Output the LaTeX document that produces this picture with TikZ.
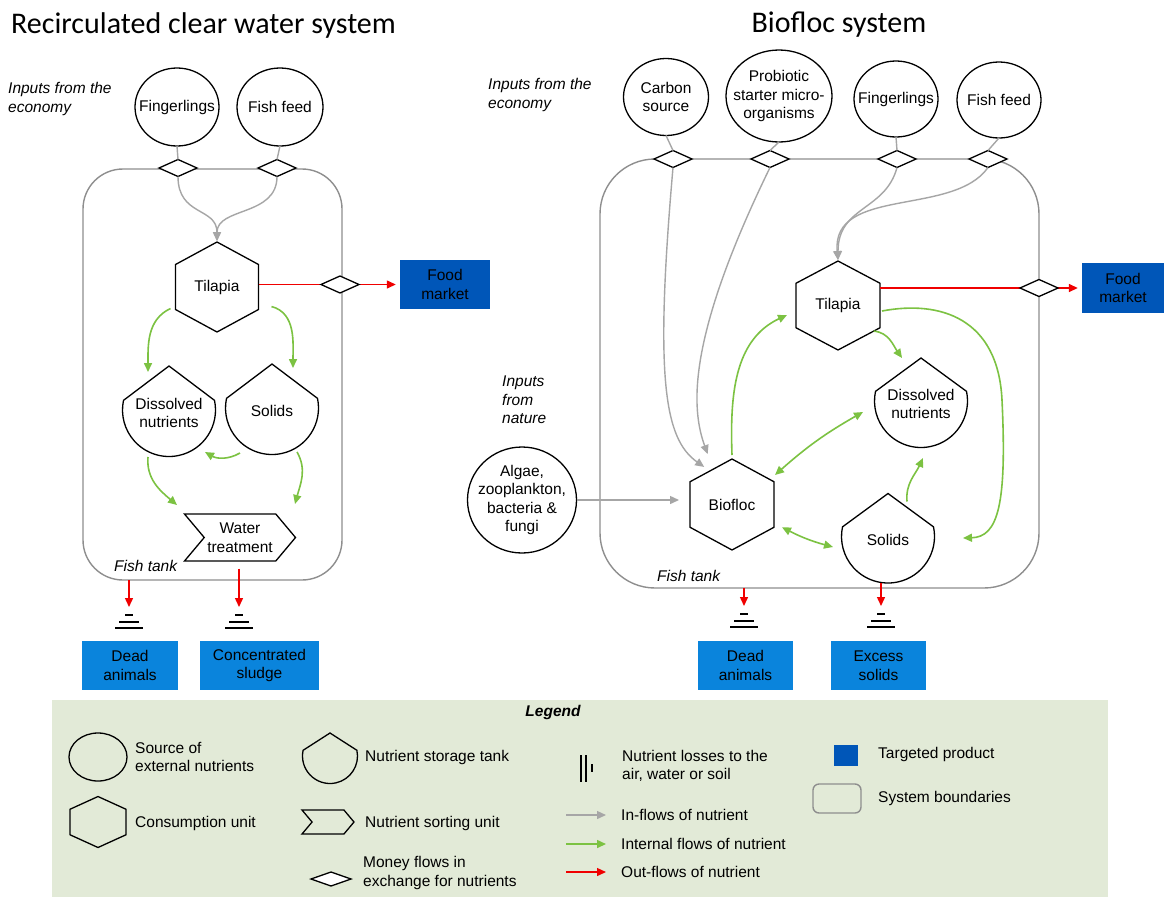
\documentclass[tikz,border=0pt]{standalone}
\usepackage{fontspec}
\setmainfont{Liberation Sans}
\newfontfamily\titlefont{Carlito}
\usetikzlibrary{shapes.geometric,shapes.symbols,arrows.meta,calc}
\definecolor{ingrey}{HTML}{A6A6A6}
\definecolor{bndgrey}{HTML}{8E8E8E}
\definecolor{intgreen}{HTML}{7CC242}
\definecolor{outred}{HTML}{F00000}
\definecolor{darkblue}{HTML}{0056B8}
\definecolor{lightblue}{HTML}{0A84DC}
\definecolor{legendbg}{HTML}{E2EAD7}
\newcommand\dfont{\fontsize{15.5}{18.5}\selectfont}
\tikzset{
  shapeline/.style={draw=black, line width=1.3pt, line join=miter},
  src/.style={ellipse, draw=black, line width=1.3pt, inner sep=0, outer sep=0},
  lbl/.style={font=\dfont, align=center, inner sep=0},
  money/.style={diamond, draw=black, fill=white, line width=1.3pt, minimum width=38pt, minimum height=17pt, inner sep=0, outer sep=0},
  hexnode/.style={rectangle, inner sep=0, outer sep=0, font=\dfont, align=center},
  wtstyle/.style={signal, signal to=east, signal from=west, signal pointer angle=100, draw=black, line width=1.3pt, inner sep=0, align=center, font=\dfont},
  inline/.style={draw=ingrey, line width=1.4pt},
  inflow/.style={inline, -{Triangle[length=9pt,width=8pt]}, shorten >=1pt},
  intflow/.style={draw=intgreen, line width=1.6pt, -{Triangle[length=9pt,width=8pt]}},
  intboth/.style={draw=intgreen, line width=1.6pt, {Triangle[length=9pt,width=8pt]}-{Triangle[length=9pt,width=8pt]}},
  outflow/.style={draw=outred, line width=1.4pt, -{Triangle[length=9pt,width=8pt]}},
  bndbox/.style={draw=bndgrey, line width=1.4pt, inner sep=0, outer sep=0},
  proddark/.style={fill=darkblue, font=\dfont, align=center, inner sep=0},
  prodlight/.style={fill=lightblue, font=\dfont, align=center, inner sep=0},
  txt/.style={anchor=west, inner sep=0, font=\dfont, align=left},
  itxt/.style={anchor=west, inner sep=0, font=\dfont\itshape, align=left},
  ttl/.style={inner sep=0, font=\titlefont\fontsize{30}{32}\selectfont},
}
\newcommand\srcnode[6]{%
  \node[src, minimum width=#4pt, minimum height=#5pt] (#1) at (#2,#3) {};
  \node[lbl] (#1-t) at (#1.center) {#6};}
\newcommand\hexa[6]{%
  \node[hexnode, minimum width=#4pt, minimum height=#5pt] (#1) at (#2,#3) {#6};
  \coordinate (#1-n) at ([shift={(0,#5/2)}]#1.center);
  \coordinate (#1-ne) at ([shift={(#4/2,#5/4)}]#1.center);
  \coordinate (#1-se) at ([shift={(#4/2,-#5/4)}]#1.center);
  \coordinate (#1-s) at ([shift={(0,-#5/2)}]#1.center);
  \coordinate (#1-sw) at ([shift={(-#4/2,-#5/4)}]#1.center);
  \coordinate (#1-nw) at ([shift={(-#4/2,#5/4)}]#1.center);
  \draw[shapeline] (#1-n) -- (#1-ne) -- (#1-se) -- (#1-s) -- (#1-sw) -- (#1-nw) -- cycle;}
\newcommand\tank[6]{%
  \node[circle, inner sep=0, outer sep=0, minimum size=#4pt] (#1) at (#2,#3) {};
  \node[lbl] (#1-t) at ([yshift=-3pt]#1.center) {#6};
  \coordinate (#1-apex) at ([shift={(0,#5)}]#1.center);
  \draw[shapeline] (#1-apex) -- (#1.12) arc[start angle=12, end angle=-192, radius=#4/2] -- cycle;}
\newcommand\groundsym[1]{%
  \draw[line width=2pt] ([shift={(-4,-8)}]#1) -- ([shift={(4,-8)}]#1);
  \draw[line width=2pt] ([shift={(-10,-14.5)}]#1) -- ([shift={(10,-14.5)}]#1);
  \draw[line width=2pt] ([shift={(-14,-21)}]#1) -- ([shift={(14,-21)}]#1);}
\begin{document}
\begin{tikzpicture}[x=1pt,y=1pt]
\useasboundingbox (0,0) rectangle (1164,-900);
\fill[white] (0,0) rectangle (1164,-900);

% ---------------- titles
\node[ttl, anchor=west] (titleL) at (11,-25) {Recirculated clear water system};
\node[ttl] (titleR) at (839,-25) {Biofloc system};

% ================= LEFT SYSTEM
\node[itxt] (econL) at (8,-99) {Inputs from the\\economy};
\node[bndbox, rounded corners=40pt, minimum width=259pt, minimum height=411pt] (tankL) at (212.5,-374.5) {};
\srcnode{fingL}{177}{-107}{84}{78}{Fingerlings}
\srcnode{feedL}{280}{-107}{86}{78}{Fish feed}
\node[money] (mFL) at (178,-168) {};
\node[money] (mFFL) at (277,-168) {};
\hexa{tilL}{217}{-287}{83}{90}{Tilapia}
\draw[inline] (fingL.south) -- (mFL.north);
\draw[inline] (feedL.south) -- (mFFL.north);
\draw[inflow] (mFL.south) .. controls +(-90:40) and +(90:35) .. (tilL-n);
\draw[inflow] (mFFL.south) .. controls +(-90:40) and +(90:35) .. (tilL-n);

\node[proddark, minimum width=90pt, minimum height=49pt] (foodL) at (445,-284.5) {Food\\market};
\draw[outflow, shorten >=4pt] (tilL.east |- foodL.west) -- (foodL.west);
\node[money] (mTilL) at (340,-284.5) {};

\tank{dissL}{169}{-410}{93}{44}{Dissolved\\nutrients}
\tank{solL}{272}{-408}{93}{44}{Solids}
\node[wtstyle, minimum width=111pt, minimum height=47pt] (wtL) at (240,-537.5) {Water\\treatment};

\draw[intflow] ([shift={(-5,1)}]tilL-sw) to[out=205,in=90] ([shift={(-21,38)}]dissL.center);
\draw[intflow] ([shift={(13,3)}]tilL-se) to[out=-15,in=90] ([shift={(21,40)}]solL.center);
\draw[intflow] ([shift={(-32,-45)}]solL.center) to[out=210,in=-30] ([shift={(36,-42)}]dissL.center);
\draw[intflow] ([shift={(-21,-47)}]dissL.center) to[out=-95,in=140] ([shift={(-63,32.5)}]wtL.center);
\draw[intflow] ([shift={(25,-44)}]solL.center) to[out=-60,in=75] ([shift={(55,33.5)}]wtL.center);

\node[itxt] (ftL) at (114,-566) {Fish tank};

\coordinate (gL1) at (129,-607);
\coordinate (gL2) at (239,-607);
\draw[outflow] (tankL.south -| gL1) -- (gL1);
\draw[outflow] ([yshift=-7pt]wtL.south -| gL2) -- (gL2);
\groundsym{gL1}
\groundsym{gL2}
\node[prodlight, minimum width=96pt, minimum height=49pt] (deadL) at (130,-665.5) {Dead\\animals};
\node[prodlight, minimum width=119pt, minimum height=49pt] (sludge) at (259.5,-665.5) {Concentrated\\sludge};

% ================= RIGHT SYSTEM
\node[itxt] (econR) at (488,-95) {Inputs from the\\economy};
\node[itxt] (natR) at (502,-400) {Inputs\\from\\nature};
\node[bndbox, rounded corners=55pt, minimum width=439pt, minimum height=429pt] (tankR) at (819.5,-373.5) {};
\srcnode{carb}{666}{-97}{85}{77}{Carbon\\source}
\srcnode{prob}{779}{-96}{106}{92}{Probiotic\\starter micro-\\organisms}
\srcnode{fingR}{896}{-99}{84}{76}{Fingerlings}
\srcnode{feedR}{999}{-100}{84}{76}{Fish feed}
\node[money] (mC) at (673,-159) {};
\node[money] (mP) at (770,-159) {};
\node[money] (mFR) at (897,-159) {};
\node[money] (mFFR) at (988,-159) {};
\draw[inline] (carb.south) -- (mC.north);
\draw[inline] (prob.south) -- (mP.north);
\draw[inline] (fingR.south) -- (mFR.north);
\draw[inline] (feedR.south) -- (mFFR.north);

\hexa{tilR}{838}{-305.5}{84}{89}{Tilapia}
\hexa{bio}{732}{-504.5}{84}{91}{Biofloc}
\tank{dissR}{921}{-401}{93}{43}{Dissolved\\nutrients}
\tank{solR}{888}{-536.5}{93}{43}{Solids}
\srcnode{alg}{522}{-500}{109}{106}{Algae,\\zooplankton,\\bacteria \&\\fungi}

\draw[inflow] (mC.south) .. controls +(-95:210) and +(145:50) .. ([shift={(-27,37)}]bio.center);
\draw[inflow] (mP.south) .. controls +(-116:190) and +(110:50) .. ([shift={(-24,49.5)}]bio.center);
\draw[inflow] (mFR.south) .. controls +(-105:45) and +(90:55) .. (tilR-n);
\draw[inflow] (mFFR.south) .. controls +(-125:60) and +(95:75) .. (tilR-n);
\draw[inflow, shorten >=11pt] (alg.east) -- (alg.east -| bio.west);

\node[proddark, minimum width=82pt, minimum height=50pt] (foodR) at (1123,-288) {Food\\market};
\draw[outflow, shorten >=4pt] (tilR-ne |- foodR.west) -- (foodR.west);
\node[money] (mTilR) at (1039,-288) {};

\draw[intflow] ([yshift=4pt]bio-n) to[out=92,in=205] ([shift={(-9,-9.5)}]tilR.west);
\draw[intflow] ($(tilR-se)!0.15!(tilR-s)$) to[out=-5,in=125] ([xshift=-19pt]dissR-apex);
\draw[intflow] ([shift={(2,-5.5)}]tilR.east) .. controls (940,-300) and (998,-318) .. (1002,-400)
   .. controls (1007,-505) and (998,-537) .. ([shift={(75,-1.5)}]solR.center);
\draw[intboth] ([shift={(1,6.75)}]bio-ne) to[bend left=6] ([shift={(-58,-11)}]dissR.center);
\draw[intboth] ([shift={(8,0)}]bio-se) to[bend right=6] ([shift={(-55,-10.5)}]solR.center);
\draw[intflow] ([shift={(19,-8)}]solR-apex) to[out=95,in=245] ([shift={(2,-57)}]dissR.center);

\node[itxt] (ftR) at (657,-576) {Fish tank};

\coordinate (gR1) at (744,-606);
\coordinate (gR2) at (881,-606);
\draw[outflow] (tankR.south -| gR1) -- (gR1);
\draw[outflow] (gR2 |- solR.south) -- (gR2);
\groundsym{gR1}
\groundsym{gR2}
\node[prodlight, minimum width=95pt, minimum height=49pt] (deadR) at (745.5,-665.5) {Dead\\animals};
\node[prodlight, minimum width=95pt, minimum height=49pt] (excess) at (878.5,-665.5) {Excess\\solids};

% ================= LEGEND
\node[fill=legendbg, minimum width=1056pt, minimum height=197pt, inner sep=0] (legbox) at (580,-798.5) {};
\node[inner sep=0, font=\dfont\bfseries\itshape] (legtitle) at (553,-712) {Legend};

\node[src, minimum width=58pt, minimum height=48pt] (lgsrc) at (98,-757) {};
\node[txt] (lgsrct) at (135,-757) {Source of\\external nutrients};
\hexa{lghex}{98}{-822}{56}{51}{}
\node[txt] (lghext) at (135,-823) {Consumption unit};
\tank{lgtank}{330}{-756}{55}{23}{}
\node[txt] (lgtankt) at (365,-757) {Nutrient storage tank};
\node[wtstyle, minimum width=52pt, minimum height=24pt] (lgsort) at (328,-822) {};
\node[txt] (lgsortt) at (365,-823) {Nutrient sorting unit};
\node[money, minimum width=40pt, minimum height=14pt] (lgmoney) at (331,-879) {};
\node[txt] (lgmoneyt) at (363,-873) {Money flows in\\exchange for nutrients};

\coordinate (lgloss) at (586,-768);
\draw[line width=2pt] ([shift={(-5,13)}]lgloss) -- ([shift={(-5,-14)}]lgloss);
\draw[line width=1.6pt] ([shift={(0,13)}]lgloss) -- ([shift={(0,-14)}]lgloss);
\draw[line width=2pt] ([shift={(6,4)}]lgloss) -- ([shift={(6,-4)}]lgloss);
\node[txt] (lglosst) at (622,-766) {Nutrient losses to the\\air, water or soil};

\coordinate (lgin0) at (566,-815);
\coordinate (lgin1) at (606,-815);
\coordinate (lgint0) at (566,-844);
\coordinate (lgint1) at (606,-844);
\coordinate (lgout0) at (566,-872);
\coordinate (lgout1) at (606,-872);
\draw[inline, -{Triangle[length=9pt,width=8pt]}] (lgin0) -- (lgin1);
\draw[intflow] (lgint0) -- (lgint1);
\draw[outflow] (lgout0) -- (lgout1);
\node[txt] (lgint) at (621,-815) {In-flows of nutrient};
\node[txt] (lginnt) at (621,-844) {Internal flows of nutrient};
\node[txt] (lgoutt) at (621,-872) {Out-flows of nutrient};

\node[fill=darkblue, minimum width=24pt, minimum height=21pt, inner sep=0] (lgprod) at (846,-755.5) {};
\node[txt] (lgprodt) at (878,-754) {Targeted product};
\node[bndbox, rounded corners=6pt, minimum width=48pt, minimum height=29pt] (lgbnd) at (837,-798.5) {};
\node[txt] (lgbndt) at (878,-798) {System boundaries};
\end{tikzpicture}
\end{document}
